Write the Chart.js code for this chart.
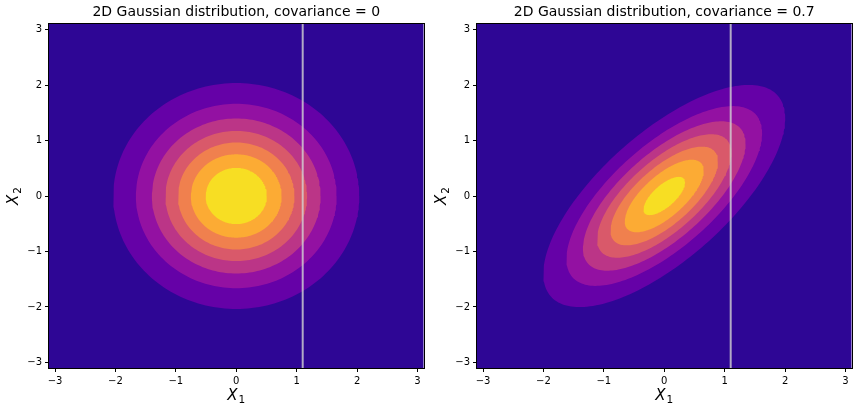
<!DOCTYPE html>
<html>
<head>
<meta charset="utf-8">
<script src="https://cdn.jsdelivr.net/npm/chart.js@4.4.0/dist/chart.umd.min.js"></script>
<style>
body { margin: 0; background: #fff; }
#wrap { position: relative; width: 856px; height: 407px; }
canvas { position: absolute; top: 0; }
</style>
</head>
<body>
<div id="wrap">
  <canvas id="g0" width="428" height="407" style="left:0"></canvas>
  <canvas id="g1" width="428" height="407" style="left:428px"></canvas>
</div>
<script>
// datos de las dos figuras
const covarianzas = [0, 0.7];
const titulos = ['2D Gaussian distribution, covariance = 0', '2D Gaussian distribution, covariance = 0.7'];
const nivelesIzq = [0.02, 0.04, 0.06, 0.08, 0.10, 0.12, 0.14];
const nivelesDer = [0.03, 0.06, 0.09, 0.12, 0.15, 0.18, 0.21];
const coloresBanda = ['#2e0695', '#6501a7', '#9311a2', '#bb3587', '#d9596a', '#f0804e', '#fcab34', '#f7de23'];
const valoresTicks = [-3, -2, -1, 0, 1, 2, 3];
const etiquetasEje = [['X', '1'], ['X', '2']];
const lineaX = 1.1;
const limite = 3.1;

// contorno de la densidad normal bivariada para un nivel dado
function curvaNivel(cov, nivel) {
    const s = Math.sqrt(1 - cov * cov);
    const pico = 1 / (2 * Math.PI * s);
    const d = Math.sqrt(2 * Math.log(pico / nivel));
    const pts = [];
    for (let i = 0; i <= 200; i++) {
        const t = i / 200 * 2 * Math.PI;
        pts.push({ x: d * Math.cos(t), y: d * (cov * Math.cos(t) + s * Math.sin(t)) });
    }
    return pts;
}

const fmt = v => String(v).replace('-', '\u2212');

// X italica con subindice, como el mathtext de matplotlib
function dibujarEtiqueta(ctx, partes, cx, base) {
    ctx.font = 'italic 15px "DejaVu Sans"';
    const w1 = ctx.measureText(partes[0]).width;
    ctx.font = '10.5px "DejaVu Sans"';
    const w2 = ctx.measureText(partes[1]).width;
    const x0 = cx - (w1 + w2 + 1) / 2;
    ctx.fillStyle = '#000';
    ctx.textBaseline = 'alphabetic';
    ctx.textAlign = 'left';
    ctx.font = 'italic 15px "DejaVu Sans"';
    ctx.fillText(partes[0], x0, base);
    ctx.font = '10.5px "DejaVu Sans"';
    ctx.fillText(partes[1], x0 + w1 + 1, base + 3);
}

const fondo = {
    id: 'fondo',
    beforeDraw(chart) {
        const a = chart.chartArea, ctx = chart.ctx;
        ctx.save();
        ctx.fillStyle = coloresBanda[0];
        ctx.fillRect(a.left, a.top, a.right - a.left, a.bottom - a.top);
        ctx.restore();
    },
    afterDraw(chart) {
        const a = chart.chartArea, ctx = chart.ctx;
        ctx.save();
        ctx.strokeStyle = '#000';
        ctx.lineWidth = 1;
        ctx.strokeRect(Math.round(a.left) - 0.5, Math.round(a.top) - 0.5,
            Math.round(a.right - a.left) + 1, Math.round(a.bottom - a.top) + 1);
        dibujarEtiqueta(ctx, etiquetasEje[0], (a.left + a.right) / 2, 400);
        ctx.translate(18, (a.top + a.bottom) / 2);
        ctx.rotate(-Math.PI / 2);
        dibujarEtiqueta(ctx, etiquetasEje[1], 0, 0);
        ctx.restore();
    }
};

function ejeConfig(esX) {
    return {
        type: 'linear',
        min: -limite,
        max: limite,
        afterBuildTicks: s => { s.ticks = valoresTicks.map(v => ({ value: v })); },
        afterFit: s => { if (esX) s.height = 39; else s.width = 49; },
        grid: { display: true, drawOnChartArea: false, drawTicks: true, tickLength: 4, color: '#000' },
        border: { display: false },
        ticks: {
            padding: 3, color: '#000', autoSkip: false, maxRotation: 0,
            font: { family: 'DejaVu Sans', size: 10 },
            callback: v => fmt(v)
        },
        title: { display: false }
    };
}

function crearGrafico(idx, niveles) {
    const cov = covarianzas[idx];
    const datasets = [{
        data: [{ x: lineaX, y: -limite }, { x: lineaX, y: limite }],
        showLine: true, pointRadius: 0, borderColor: 'rgba(211,211,211,0.8)', borderWidth: 2, fill: false
    }];
    for (let i = niveles.length - 1; i >= 0; i--) {
        datasets.push({
            data: curvaNivel(cov, niveles[i]),
            showLine: true, pointRadius: 0, borderWidth: 0, borderColor: 'rgba(0,0,0,0)',
            backgroundColor: coloresBanda[i + 1], fill: 'shape', tension: 0
        });
    }
    const ctx = document.getElementById('g' + idx).getContext('2d');
    return new Chart(ctx, {
        type: 'scatter',
        data: { datasets: datasets },
        options: {
            responsive: false,
            animation: false,
            layout: { padding: { left: 0, right: 4.5, top: 0, bottom: 0 } },
            plugins: {
                legend: { display: false },
                tooltip: { enabled: false },
                title: {
                    display: true, text: titulos[idx], color: '#000', fullSize: false,
                    font: { family: 'DejaVu Sans', size: 14, weight: 'normal' },
                    padding: { top: 4, bottom: 3.2 }
                }
            },
            scales: { x: ejeConfig(true), y: ejeConfig(false) }
        },
        plugins: [fondo]
    });
}

crearGrafico(0, nivelesIzq);
crearGrafico(1, nivelesDer);
</script>
</body>
</html>
